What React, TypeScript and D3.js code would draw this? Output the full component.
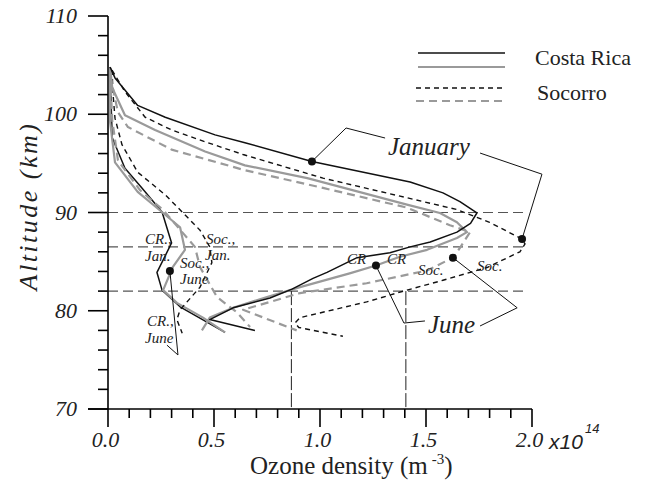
import React from "react";
import * as d3 from "d3";

// ---------- DATA (density in 1e14 m^-3, altitude in km) ----------
const crJanMain: [number, number][] = [
  [0.01, 104.8], [0.033, 103.7], [0.14, 100.9], [0.27, 99.7], [0.505, 97.9], [0.646, 97.1],
  [0.962, 95.2], [1.425, 93.1], [1.58, 92.0], [1.66, 91.1], [1.74, 89.95], [1.71, 88.9],
  [1.646, 88.0], [1.52, 87.0], [1.425, 86.5], [1.33, 85.9], [1.175, 85.4], [1.033, 83.9],
  [0.967, 83.3], [0.868, 82.2], [0.764, 81.3], [0.59, 80.3], [0.48, 79.1], [0.693, 78.0],
];
const socJanMain: [number, number][] = [
  [0.019, 104.5], [0.08, 102.3], [0.175, 99.7], [0.3, 98.4], [0.458, 97.2], [0.637, 95.9],
  [1.014, 93.5], [1.41, 91.5], [1.646, 90.3], [1.8, 89.0], [1.953, 87.3], [1.967, 86.8],
  [1.943, 86.0], [1.788, 84.4], [1.58, 83.1], [1.41, 82.1], [1.22, 80.9], [0.906, 79.3],
  [0.882, 78.75], [0.9, 78.3], [1.108, 77.4],
];
const crJuneMain: [number, number][] = [
  [0.01, 104.7], [0.02, 102.7], [0.08, 99.9], [0.222, 98.4], [0.458, 96.2], [0.646, 94.8],
  [0.94, 93.5], [1.41, 90.8], [1.566, 89.95], [1.646, 89.0], [1.693, 88.0], [1.646, 87.4],
  [1.505, 86.2], [1.377, 85.5], [1.264, 84.6], [1.14, 83.8], [0.906, 82.4], [0.75, 81.4],
  [0.59, 80.3], [0.48, 79.3], [0.443, 78.0],
];
const socJuneMain: [number, number][] = [
  [0.01, 104.0], [0.047, 100.2], [0.094, 98.7], [0.3, 96.4], [0.646, 94.3], [1.014, 92.5],
  [1.41, 90.5], [1.613, 88.7], [1.708, 88.0], [1.684, 87.2], [1.66, 86.4], [1.627, 85.4],
  [1.505, 84.1], [1.22, 82.8], [0.906, 81.8], [0.637, 80.1], [0.89, 78.0],
];
const crJanSmall: [number, number][] = [
  [0.01, 104.8], [0.014, 101.45], [0.02, 97.6], [0.08, 94.5], [0.16, 92.5], [0.255, 90.05],
  [0.3, 86.9], [0.231, 83.9], [0.255, 82.1], [0.34, 80.4], [0.552, 77.8],
];
const crJuneSmall: [number, number][] = [
  [0.01, 104.7], [0.01, 99.2], [0.033, 95.1], [0.14, 92.1], [0.26, 89.95], [0.34, 88.5],
  [0.363, 86.2], [0.307, 84.5], [0.26, 82.1], [0.325, 80.8], [0.448, 79.3], [0.552, 77.8],
];
const socJanSmall: [number, number][] = [
  [0.019, 104.5], [0.024, 102.0], [0.033, 99.6], [0.066, 96.9], [0.14, 94.1], [0.27, 91.8],
  [0.35, 90.05], [0.434, 88.2], [0.48, 86.5], [0.49, 84.9], [0.434, 82.4], [0.34, 80.1],
  [0.325, 79.1], [0.35, 77.7],
];
const socJuneSmall: [number, number][] = [
  [0.01, 104.0], [0.02, 99.4], [0.047, 95.3], [0.15, 92.3], [0.26, 90.25], [0.354, 87.9],
  [0.41, 86.5], [0.434, 84.45], [0.514, 81.4], [0.61, 79.8], [0.67, 78.35],
];
const refAltitudes = [90, 86.5, 82];
const refDensities = [0.865, 1.405];
const yMajorTicks = [70, 80, 90, 100, 110];
const xMajorTicks = [0, 0.5, 1.0, 1.5, 2.0];
const legendNames = ["Costa Rica", "Socorro"];

export default function App() {
  const W = 646, H = 485;
  const x = d3.scaleLinear().domain([0, 2]).range([108, 532]);
  const y = d3.scaleLinear().domain([70, 110]).range([409, 16]);
  const line = d3.line<[number, number]>().x((d) => x(d[0])).y((d) => y(d[1]));
  const serif = "Liberation Serif, DejaVu Serif, serif";
  const sans = "Liberation Sans, Arial, sans-serif";
  const serifIt = { fontFamily: serif, fontStyle: "italic" as const };
  const serifUp = { fontFamily: serif };

  const black = "#111";
  const gray = "#9a9a9a";
  const styles = {
    crJan: { stroke: black, sw: 1.5, dash: undefined as string | undefined },
    crJune: { stroke: gray, sw: 2.2, dash: undefined as string | undefined },
    socJan: { stroke: black, sw: 1.4, dash: "5,4" },
    socJune: { stroke: gray, sw: 2.2, dash: "8,5" },
  };
  const curves: { d: [number, number][]; s: typeof styles.crJan }[] = [
    { d: crJanSmall, s: styles.crJan },
    { d: crJuneSmall, s: styles.crJune },
    { d: socJanSmall, s: styles.socJan },
    { d: socJuneSmall, s: styles.socJune },
    { d: crJuneMain, s: styles.crJune },
    { d: socJuneMain, s: styles.socJune },
    { d: crJanMain, s: styles.crJan },
    { d: socJanMain, s: styles.socJan },
  ];

  const yMinor = d3.range(70, 110.01, 2);
  const xMinor = d3.range(0, 2.001, 0.1);

  const P = (v: number, a: number) => `${x(v)},${y(a)}`;
  const dots: [number, number][] = [
    [0.962, 95.2],
    [1.953, 87.3],
    [1.264, 84.6],
    [1.627, 85.4],
    [0.292, 84.05],
  ];

  return (
    <svg width={W} height={H} style={{ position: "absolute", left: 0, top: 0, background: "#fff" }}>
      {/* reference dashed lines */}
      {refAltitudes.map((a) => (
        <line key={"h" + a} x1={x(0)} x2={x(1.96)} y1={y(a)} y2={y(a)} stroke="#555" strokeWidth={1.2} strokeDasharray="10,5" />
      ))}
      {refDensities.map((v) => (
        <line key={"v" + v} x1={x(v)} x2={x(v)} y1={y(82)} y2={y(70)} stroke="#222" strokeWidth={1} strokeDasharray="14,3" />
      ))}

      {/* curves */}
      {curves.map((c, i) => (
        <path key={i} d={line(c.d) || ""} fill="none" stroke={c.s.stroke} strokeWidth={c.s.sw}
          strokeDasharray={c.s.dash} strokeLinejoin="round" />
      ))}

      {/* axes */}
      <line x1={x(0)} x2={x(0)} y1={y(110)} y2={y(70)} stroke="#000" strokeWidth={1.6} />
      <line x1={x(0) - 20} x2={x(2)} y1={y(70)} y2={y(70)} stroke="#000" strokeWidth={1.6} />
      {yMinor.map((t) => (
        <line key={"yt" + t} x1={x(0) - (yMajorTicks.includes(Math.round(t)) ? 20 : 10)} x2={x(0)} y1={y(t)} y2={y(t)} stroke="#000" strokeWidth={1.6} />
      ))}
      {xMinor.map((t) => {
        const major = xMajorTicks.some((m) => Math.abs(m - t) < 1e-6);
        return <line key={"xt" + t} x1={x(t)} x2={x(t)} y1={y(70)} y2={y(70) + (major ? 18 : 9)} stroke="#000" strokeWidth={1.6} />;
      })}
      {yMajorTicks.map((t) => (
        <text key={"yl" + t} x={77} y={y(t) + 7} textAnchor="end" style={serifIt} fontSize={22} fill="#222">{t}</text>
      ))}
      {xMajorTicks.map((t) => (
        <text key={"xl" + t} x={x(t) - 2.5} y={447} textAnchor="middle" style={serifIt} fontSize={22} fill="#222">{t.toFixed(1)}</text>
      ))}
      <text x={549} y={449} style={{ fontFamily: sans, fontStyle: "italic" }} fontSize={21} fill="#222">x10</text>
      <text x={585} y={433} style={{ fontFamily: sans, fontStyle: "italic" }} fontSize={13} fill="#222">14</text>
      <text x={250} y={474} style={serifUp} fontSize={25} fill="#222">
        Ozone density (m<tspan dx={4} dy={-10} fontSize={15}>-3</tspan><tspan dy={10}>)</tspan>
      </text>
      <text transform={`translate(37,206) rotate(-90)`} textAnchor="middle" style={{ ...serifIt, letterSpacing: "2.5px" }} fontSize={26} fill="#222">Altitude (km)</text>

      {/* legend */}
      <line x1={418} x2={505} y1={53} y2={53} stroke={black} strokeWidth={1.5} />
      <line x1={418} x2={505} y1={67} y2={67} stroke={gray} strokeWidth={2.2} />
      <line x1={416} x2={502} y1={88} y2={88} stroke={black} strokeWidth={1.4} strokeDasharray="5,4" />
      <line x1={416} x2={502} y1={101} y2={101} stroke={gray} strokeWidth={2.2} strokeDasharray="8,5" />
      <text x={535} y={65} style={serifUp} fontSize={22} fill="#222">{legendNames[0]}</text>
      <text x={537} y={100} style={serifUp} fontSize={22} fill="#222">{legendNames[1]}</text>

      {/* leaders */}
      <polyline points={[P(0.962, 95.2), P(1.123, 98.6), P(1.307, 97.58)].join(" ")} fill="none" stroke="#111" strokeWidth={1} />
      <polyline points={[P(1.755, 96.05), P(2.047, 93.9), P(1.953, 87.3)].join(" ")} fill="none" stroke="#111" strokeWidth={1} />
      <polyline points={[P(1.264, 84.6), P(1.396, 78.75), P(1.495, 78.96)].join(" ")} fill="none" stroke="#111" strokeWidth={1} />
      <polyline points={[P(1.627, 85.4), P(1.93, 80.3), P(1.755, 78.45)].join(" ")} fill="none" stroke="#111" strokeWidth={1} />
      <polyline points={[P(0.292, 84.05), P(0.33, 75.5), P(0.278, 76.5)].join(" ")} fill="none" stroke="#111" strokeWidth={1} />
      {dots.map((d, i) => (
        <circle key={"dot" + i} cx={x(d[0])} cy={y(d[1])} r={4} fill="#111" />
      ))}

      {/* big labels */}
      <text x={388} y={155} style={serifIt} fontSize={25} fill="#222">January</text>
      <text x={428} y={333} style={serifIt} fontSize={25} fill="#222">June</text>

      {/* small labels */}
      {[
        ["CR", 347, 264], ["CR", 387, 264], ["Soc.", 418, 275], ["Soc.", 477, 271],
        ["CR.,", 145, 244], ["Jan.", 145, 261], ["Soc.,", 206, 244], ["Jan.", 205, 260],
        ["Soc.,", 180, 268], ["June", 180, 284], ["CR.,", 147, 326], ["June", 145, 343],
      ].map((l, i) => (
        <text key={"sl" + i} x={l[1] as number} y={l[2] as number} style={serifIt} fontSize={15} fill="#222">{l[0]}</text>
      ))}
    </svg>
  );
}
